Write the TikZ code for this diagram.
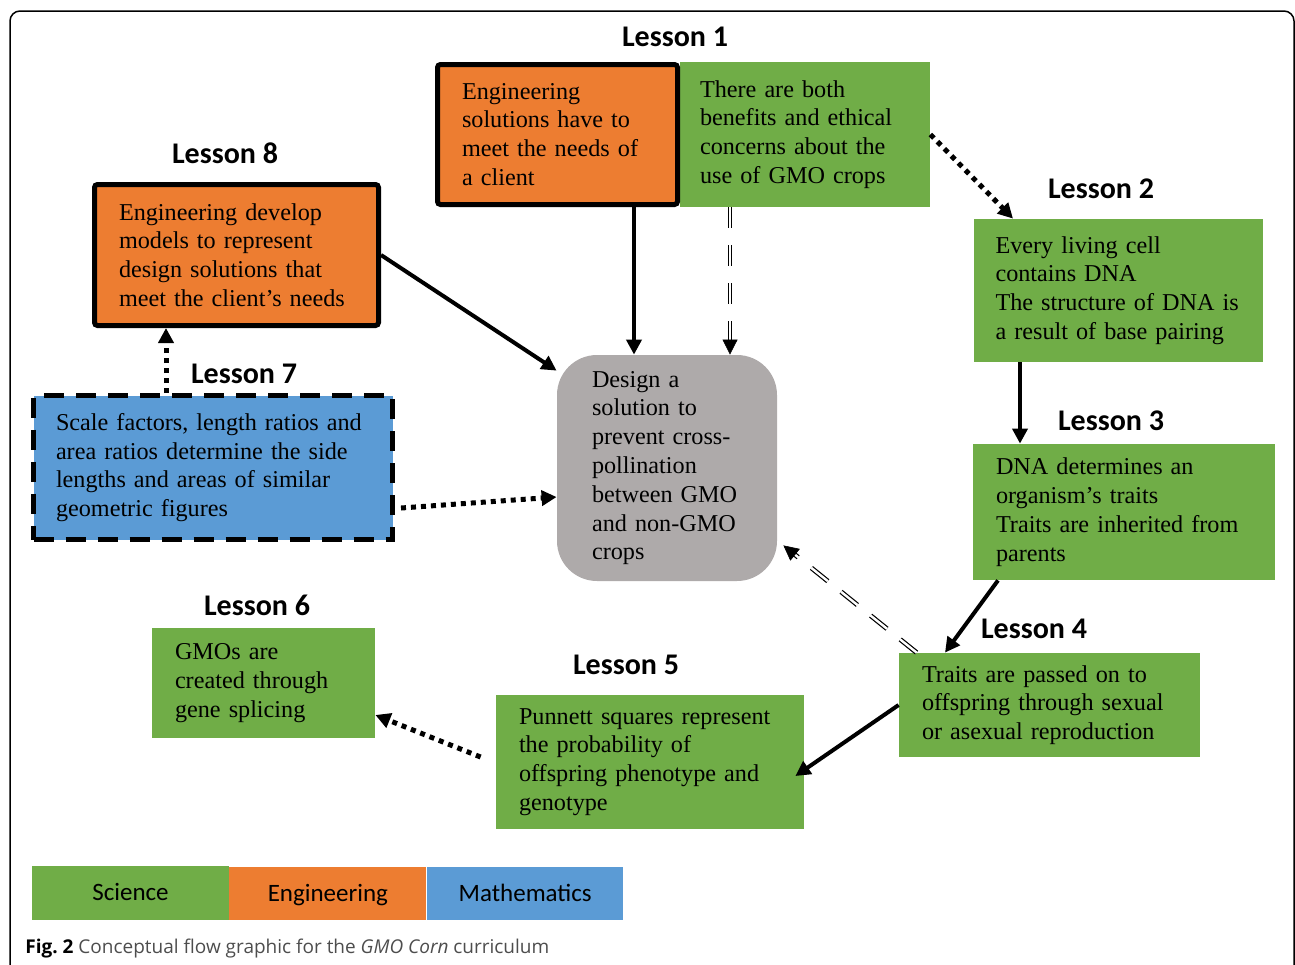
\documentclass[tikz,border=0pt]{standalone}
\usepackage{fontspec}
\setmainfont{Liberation Serif}
\newfontfamily\lessonfont{Carlito}
\newfontfamily\captionfont{Open Sans}
\usepackage{tikz}
\usetikzlibrary{arrows.meta, positioning, calc}
\definecolor{sciencecolor}{RGB}{112, 173, 71}
\definecolor{engcolor}{RGB}{237, 125, 49}
\definecolor{mathcolor}{RGB}{91, 155, 213}
\definecolor{goalcolor}{RGB}{174, 170, 170}
\definecolor{captioncolor}{RGB}{77, 77, 77}

\begin{document}
\begin{tikzpicture}[
    x=0.5pt, y=-0.5pt,
    idea/.style={inner sep=0pt, align=left, font=\fontsize{12.1}{14.4}\selectfont},
    science/.style={idea, fill=sciencecolor},
    engineering/.style={idea, fill=engcolor, draw=black, line width=2.5pt, rounded corners=1.5pt},
    mathematics/.style={idea, fill=mathcolor, draw=black, line width=2.5pt, dash pattern=on 10pt off 6pt},
    goal/.style={idea, fill=goalcolor, rounded corners=20pt},
    lesson/.style={font=\lessonfont\bfseries\fontsize{15}{18}\selectfont},
    key/.style={minimum height=26.5pt, minimum width=98.5pt, inner sep=0pt, text height=10pt, text depth=2.5pt,
        font=\lessonfont\fontsize{12.5}{15}\selectfont},
    tip/.style={-{Triangle[length=7.5pt, width=7.5pt]}},
    arrow/.style={tip, line width=2pt},
    dotarrow/.style={tip, line width=2.5pt, dash pattern=on 2.5pt off 2.5pt},
    dblarrow/.style={-{Triangle[length=7.5pt, width=7.5pt, color=black]}, draw=white, line width=0.3pt,
        preaction={draw=black, arrows=-, line width=0.6pt, double=white, double distance=1.2pt,
            dash pattern=on 10.5pt off 8.5pt, shorten >=6pt}}
]
    \useasboundingbox (0,0) rectangle (1295,964);
    % Frame
    \draw[line width=0.75pt, rounded corners=5pt] (10,11) rectangle (1294,995);

    % Lesson 1
    \node[science, minimum width=125pt, minimum height=72.5pt, text width=105pt] (l1sci) at (805,134.5)
        {There are both\\benefits and ethical\\concerns about the\\use of GMO crops};
    \node[engineering, minimum width=120pt, minimum height=70pt, text width=95.5pt] (l1eng) at (557.5,134.5)
        {Engineering\\solutions have to\\meet the needs of\\a client};
    \node[lesson] (lab1) at (675,37) {Lesson 1};

    % Lesson 8 and 7
    \node[engineering, minimum width=142pt, minimum height=70.5pt, text width=117.5pt] (l8) at (236.5,255)
        {Engineering develop\\models to represent\\design solutions that\\meet the client’s needs};
    \node[lesson] (lab8) at (225,153) {Lesson 8};
    \node[mathematics, minimum width=179.5pt, minimum height=72pt, text width=157pt] (l7) at (213,467.5)
        {Scale factors, length ratios and\\area ratios determine the side\\lengths and areas of similar\\geometric figures};
    \node[lesson] (lab7) at (244,374) {Lesson 7};

    % Design goal
    \node[goal, minimum width=110pt, minimum height=113pt, text width=75pt] (ctr) at (667,468)
        {Design a\\solution to\\prevent cross-\\pollination\\between GMO\\and non-GMO\\crops};

    % Lessons 2 to 6
    \node[science, minimum width=144.5pt, minimum height=71.5pt, text width=123pt] (l2) at (1118.5,290.5)
        {Every living cell\\contains DNA\\The structure of DNA is\\a result of base pairing};
    \node[lesson] (lab2) at (1101,189) {Lesson 2};
    \node[science, minimum width=151pt, minimum height=68pt, text width=128pt] (l3) at (1124,512)
        {DNA determines an\\organism’s traits\\Traits are inherited from\\parents};
    \node[lesson] (lab3) at (1111,421) {Lesson 3};
    \node[science, minimum width=150.5pt, minimum height=52pt, text width=127.5pt] (l4) at (1049.5,705)
        {Traits are passed on to\\offspring through sexual\\or asexual reproduction};
    \node[lesson] (lab4) at (1034,629) {Lesson 4};
    \node[science, minimum width=154pt, minimum height=67pt, text width=131pt] (l5) at (650,762)
        {Punnett squares represent\\the probability of\\offspring phenotype and\\genotype};
    \node[lesson] (lab5) at (626,665) {Lesson 5};
    \node[science, minimum width=111.5pt, minimum height=55pt, text width=88.5pt] (l6) at (263.5,683)
        {GMOs are\\created through\\gene splicing};
    \node[lesson] (lab6) at (257,605) {Lesson 6};

    % Connectors
    \draw[arrow] ([xshift=38.25pt]l1eng.south) -- ([xshift=38.25pt]l1eng.south |- ctr.north);
    \draw[dblarrow] ([xshift=-37.5pt]l1sci.south) -- ([xshift=-37.5pt]l1sci.south |- ctr.north);
    \draw[dotarrow] (l1sci.east) -- ([xshift=-52.75pt]l2.north);
    \draw[arrow] (l8.east) -- ([yshift=-8pt]ctr.north west);
    \draw[dotarrow] ([xshift=-23.5pt]l7.north) -- ([xshift=-23.5pt]l7.north |- l8.south);
    \draw[dotarrow] ([xshift=3pt,yshift=-20.25pt]l7.east) -- ([yshift=-14.5pt]ctr.west);
    \draw[arrow] ([xshift=-49.25pt]l2.south) -- ([xshift=-49.25pt]l2.south |- l3.north);
    \draw[arrow] ([xshift=-63pt]l3.south) -- ([xshift=-52.25pt]l4.north);
    \draw[dblarrow] ([xshift=9pt]l4.north west) -- ([xshift=3pt,yshift=18pt]ctr.south east);
    \draw[arrow] (l4.west) -- ([xshift=-4.5pt,yshift=-7pt]l5.east);
    \draw[dotarrow] ([xshift=-7.5pt,yshift=2.5pt]l5.west) -- ([yshift=-16pt]l6.east);

    % Legend
    \node[key, fill=sciencecolor, minimum height=27pt] (scikey) at (130.5,893) {Science};
    \node[key, fill=engcolor, anchor=west] (engkey) at (229,893.5) {Engineering};
    \node[key, fill=mathcolor, minimum width=98pt, right=0pt of engkey] (mathkey) {Mathematics};

    % Caption
    \node[anchor=base west, inner sep=0pt, text=captioncolor, font=\captionfont\fontsize{9.5}{11}\selectfont] (caption) at (25,953)
        {\textbf{\color{black}Fig.~2} Conceptual flow graphic for the \textit{GMO Corn} curriculum};
\end{tikzpicture}
\end{document}
